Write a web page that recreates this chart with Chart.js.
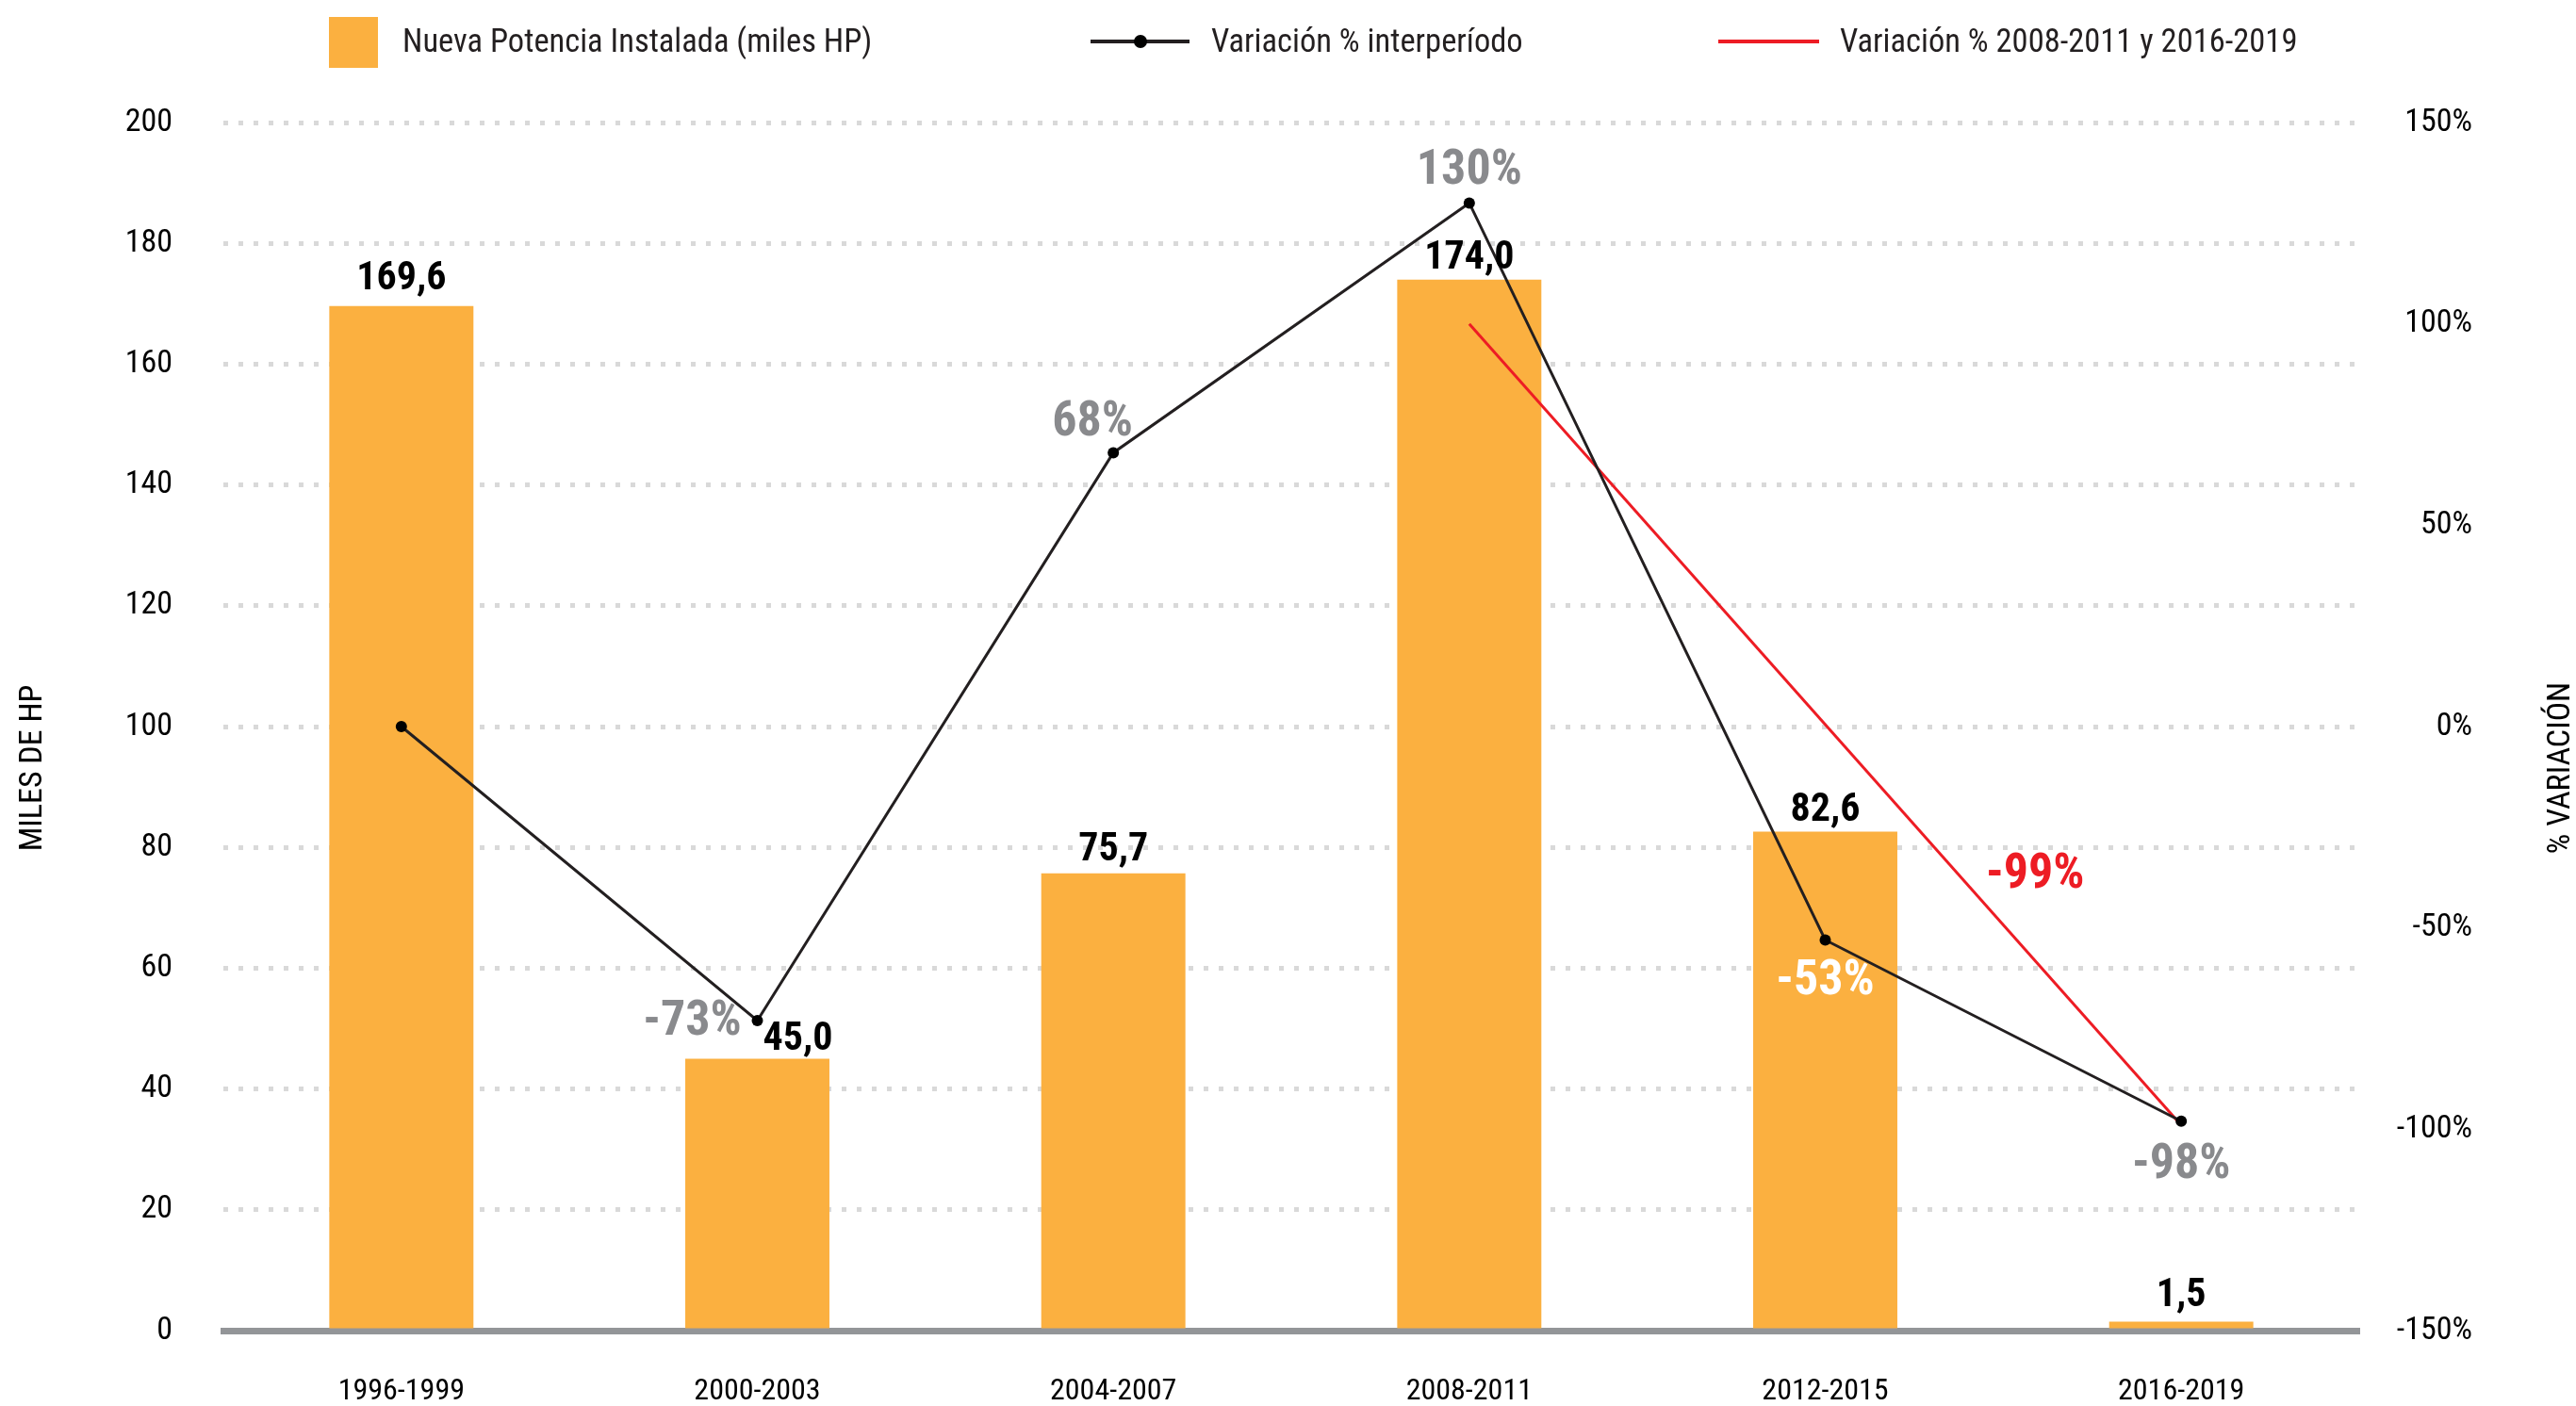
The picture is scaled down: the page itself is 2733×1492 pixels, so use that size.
<!DOCTYPE html>
<html lang="es">
<head>
<meta charset="UTF-8">
<title>Nueva Potencia Instalada</title>
<script src="https://cdn.jsdelivr.net/npm/chart.js@4.4.0/dist/chart.umd.min.js"></script>
<style>
  html, body { margin: 0; padding: 0; background: #fff; }
  #contenedor { width: 2733px; height: 1492px; }
</style>
</head>
<body>
<div id="contenedor"><canvas id="grafico-potencia" width="2733" height="1492"></canvas></div>
<script>
// Datos del gráfico
const periodos = ['1996-1999', '2000-2003', '2004-2007', '2008-2011', '2012-2015', '2016-2019'];
const potenciaInstalada = [169.6, 45.0, 75.7, 174.0, 82.6, 1.5];      // miles HP
const variacionInterperiodo = [0, -73, 68, 130, -53, -98];             // %
const variacionExtremos = [null, null, null, 100, null, -99];          // 2008-2011 -> 2016-2019
const etiquetaVariacionVisible = [false, true, true, true, true, true];

// Ejes
const ejeHP = { min: 0, max: 200, paso: 20 };
const ejeVariacion = { min: -150, max: 150, paso: 50 };

// Colores y fuente
const FUENTE = "'Roboto Condensed', 'Liberation Sans Narrow', 'Arial Narrow', 'DejaVu Sans Condensed', Roboto, sans-serif";
const NARANJA = '#fbb040';
const NEGRO = '#231f20';
const ROJO = '#ed1c24';
const GRIS_TEXTO = '#898a8d';

// Desplazamientos de las etiquetas (px) respecto al punto o barra
const despBarras = [[0, -18], [43, -10], [0, -14], [0, -12], [0, -12], [0, -16]];
const despVariacion = [[0, 0], [-69, 15], [-22, -18], [0, -20], [0, 58], [0, 60]];
const colorVariacion = [GRIS_TEXTO, GRIS_TEXTO, GRIS_TEXTO, GRIS_TEXTO, '#ffffff', GRIS_TEXTO];
const despExtremo = [-155, -252];

function formatearValor(v) {
    return v.toFixed(1).replace('.', ',');
}

document.addEventListener('DOMContentLoaded', function() {
    Chart.defaults.font.family = FUENTE;
    Chart.defaults.color = '#000';

    // Etiquetas de datos sobre barras y puntos
    const pluginEtiquetas = {
        id: 'etiquetas',
        afterDatasetsDraw(chart) {
            const ctx = chart.ctx;
            ctx.save();
            ctx.textAlign = 'center';
            ctx.textBaseline = 'alphabetic';

            ctx.font = 'bold 42px ' + FUENTE;
            ctx.fillStyle = '#000';
            chart.getDatasetMeta(0).data.forEach(function(barra, i) {
                ctx.fillText(formatearValor(potenciaInstalada[i]), barra.x + despBarras[i][0], barra.y + despBarras[i][1]);
            });

            ctx.font = 'bold 52px ' + FUENTE;
            chart.getDatasetMeta(1).data.forEach(function(punto, i) {
                if (!etiquetaVariacionVisible[i]) return;
                ctx.fillStyle = colorVariacion[i];
                ctx.fillText(Math.round(variacionInterperiodo[i]) + '%', punto.x + despVariacion[i][0], punto.y + despVariacion[i][1]);
            });

            const metaRoja = chart.getDatasetMeta(2);
            const ultimo = variacionExtremos.length - 1;
            const p = metaRoja.data[ultimo];
            ctx.fillStyle = ROJO;
            ctx.fillText(variacionExtremos[ultimo] + '%', p.x + despExtremo[0], p.y + despExtremo[1]);
            ctx.restore();
        }
    };

    // Leyenda y títulos de ejes dibujados a mano
    const pluginLeyenda = {
        id: 'leyendaManual',
        afterDraw(chart) {
            const ctx = chart.ctx;
            const ds = chart.data.datasets;
            const yc = 46;
            ctx.save();
            ctx.font = '34.5px ' + FUENTE;
            ctx.fillStyle = NEGRO;
            ctx.textBaseline = 'middle';
            ctx.textAlign = 'left';

            // barras
            ctx.fillStyle = NARANJA;
            ctx.fillRect(349, 18, 52, 54);
            ctx.fillStyle = NEGRO;
            ctx.fillText(ds[0].label, 427, yc);

            // línea con punto
            ctx.strokeStyle = ds[1].borderColor;
            ctx.lineWidth = 4;
            ctx.beginPath(); ctx.moveTo(1157, 44); ctx.lineTo(1262, 44); ctx.stroke();
            ctx.fillStyle = '#000';
            ctx.beginPath(); ctx.arc(1210, 44, 7, 0, Math.PI * 2); ctx.fill();
            ctx.fillStyle = NEGRO;
            ctx.fillText(ds[1].label, 1285, yc);

            // línea roja
            ctx.strokeStyle = ds[2].borderColor;
            ctx.beginPath(); ctx.moveTo(1823, 44); ctx.lineTo(1930, 44); ctx.stroke();
            ctx.fillText(ds[2].label, 1952, yc);

            // títulos de ejes
            ctx.font = '34px ' + FUENTE;
            ctx.textAlign = 'center';
            ctx.fillStyle = '#000';
            ctx.translate(35, 815);
            ctx.rotate(-Math.PI / 2);
            ctx.fillText('MILES DE HP', 0, 0);
            ctx.rotate(Math.PI / 2);
            ctx.translate(2717 - 35, 0);
            ctx.rotate(-Math.PI / 2);
            ctx.fillText('% VARIACIÓN', 0, 0);
            ctx.restore();
        }
    };

    const ctx = document.getElementById('grafico-potencia').getContext('2d');
    new Chart(ctx, {
        data: {
            labels: periodos,
            datasets: [
                {
                    type: 'bar',
                    label: 'Nueva Potencia Instalada (miles HP)',
                    data: potenciaInstalada,
                    backgroundColor: NARANJA,
                    borderWidth: 0,
                    categoryPercentage: 1,
                    barPercentage: 0.405,
                    yAxisID: 'y',
                    order: 3
                },
                {
                    type: 'line',
                    label: 'Variación % interperíodo',
                    data: variacionInterperiodo,
                    borderColor: NEGRO,
                    borderWidth: 3,
                    pointRadius: 6,
                    pointBackgroundColor: '#000',
                    pointBorderWidth: 0,
                    tension: 0,
                    yAxisID: 'y1',
                    order: 1
                },
                {
                    type: 'line',
                    label: 'Variación % 2008-2011 y 2016-2019',
                    data: variacionExtremos,
                    borderColor: ROJO,
                    borderWidth: 3,
                    pointRadius: 0,
                    spanGaps: true,
                    tension: 0,
                    yAxisID: 'y1',
                    order: 2
                }
            ]
        },
        options: {
            responsive: false,
            animation: false,
            layout: { padding: { top: 130, right: 110, left: 0, bottom: 0 } },
            plugins: {
                legend: { display: false },
                tooltip: { enabled: false }
            },
            scales: {
                x: {
                    z: 1,
                    grid: { display: false, drawTicks: false },
                    border: { display: true, color: '#939598', width: 7 },
                    ticks: { font: { size: 32 }, color: '#000', padding: 46 },
                    afterFit: function(scale) { scale.height = 80; }
                },
                y: {
                    position: 'left',
                    min: ejeHP.min,
                    max: ejeHP.max,
                    ticks: { stepSize: ejeHP.paso, font: { size: 34 }, color: '#000', padding: 54 },
                    grid: { color: '#d9d9d9', lineWidth: 5, drawTicks: false },
                    border: { display: false, dash: [5, 11] },
                    afterFit: function(scale) { scale.width = 237; }
                },
                y1: {
                    position: 'right',
                    min: ejeVariacion.min,
                    max: ejeVariacion.max,
                    ticks: {
                        stepSize: ejeVariacion.paso,
                        font: { size: 34 },
                        color: '#000',
                        crossAlign: 'far',
                        callback: function(v) { return v + '%'; }
                    },
                    grid: { display: false, drawTicks: false },
                    border: { display: false },
                    afterFit: function(scale) { scale.width = 120; }
                }
            }
        },
        plugins: [pluginEtiquetas, pluginLeyenda]
    });
});
</script>
</body>
</html>
